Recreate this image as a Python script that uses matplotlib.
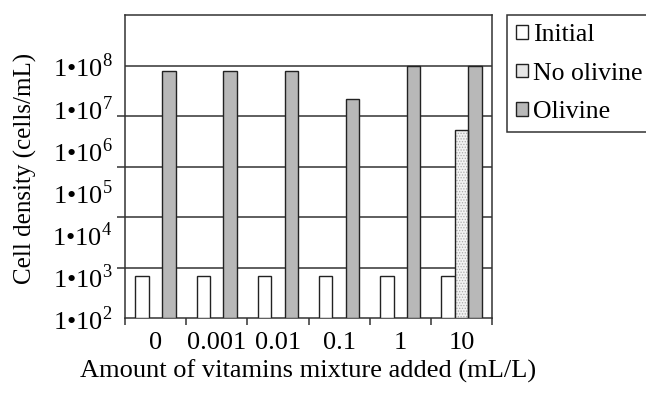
import numpy as np
import matplotlib
matplotlib.use("Agg")
from matplotlib import pyplot as plt
from matplotlib.patches import Patch
from matplotlib.ticker import FixedLocator, NullFormatter

plt.rcParams['font.family'] = ['Liberation Serif', 'DejaVu Serif']
plt.rcParams['mathtext.fontset'] = 'custom'
plt.rcParams['mathtext.rm'] = 'Liberation Serif'
plt.rcParams['hatch.linewidth'] = 0.6

# vitamin mixture added (mL/L) and cell densities (cells/mL)
amounts = ['0', '0.001', '0.01', '0.1', '1', '10']
initial = [900, 900, 900, 900, 900, 900]
no_olivine = [None, None, None, None, None, 2.9e6]
olivine = [7.5e7, 7.5e7, 7.5e7, 1.6e7, 9.5e7, 9.5e7]

decades = [2, 3, 4, 5, 6, 7, 8]
grid_exp = [2, 3.2, 4.4, 5.6, 6.8, 8.0]
top_exp = 9.2

edge = '#222222'
fs = 19

fig = plt.figure(figsize=(6.46, 3.96), dpi=100)
ax = fig.add_axes([125/646, 1 - 318.3/396, (492 - 125)/646, (318.3 - 15)/396])
ax.set_yscale('log')

x = np.arange(len(amounts)) + 0.5
w = 0.22

for i, xc in enumerate(x):
    ax.bar(xc - w, initial[i], w, bottom=1e2, color='white', edgecolor=edge, lw=1.0, zorder=3)
    if no_olivine[i] is not None:
        ax.bar(xc, no_olivine[i], w, bottom=1e2, color='#f2f2f2', edgecolor='#aaaaaa',
               hatch='......', lw=0, zorder=3)
        ax.bar(xc, no_olivine[i], w, bottom=1e2, fill=False, edgecolor=edge, lw=1.0, zorder=4)
    ax.bar(xc + w, olivine[i], w, bottom=1e2, color='#b8b8b8', edgecolor=edge, lw=1.0, zorder=3)

# gridlines sit on their own spacing, independent of the decade labels
for g in grid_exp[1:]:
    ax.axhline(10**g, color='#333333', lw=1.1, zorder=1)

ax.set_xlim(0, len(amounts))
ax.set_ylim(1e2, 10**top_exp)

ax.yaxis.set_major_locator(FixedLocator([10.0**d for d in decades]))
ax.set_yticklabels(['1\u202210$^{%d}$' % d for d in decades])
ax.yaxis.set_minor_locator(FixedLocator([10.0**g for g in grid_exp]))
ax.yaxis.set_minor_formatter(NullFormatter())
ax.tick_params(axis='y', which='major', length=0, pad=9, labelsize=fs)
ax.tick_params(axis='y', which='minor', length=6, width=1.1, direction='out', color='#333333')

ax.set_xticks(x)
ax.set_xticklabels(amounts)
ax.set_xticks(np.arange(len(amounts) + 1), minor=True)
ax.tick_params(axis='x', which='major', length=0, pad=10, labelsize=fs)
ax.tick_params(axis='x', which='minor', length=5, width=1.1, direction='out', color='#333333')

for s in ax.spines.values():
    s.set_linewidth(1.1)
    s.set_color('#333333')

ax.set_xlabel('Amount of vitamins mixture added (mL/L)', fontsize=fs, labelpad=4)
fig.text(25/646, 1 - 168/396, 'Cell density (cells/mL)', rotation=90,
         ha='center', va='center', fontsize=18)

handles = [Patch(facecolor='white', edgecolor=edge, lw=1.0),
           Patch(facecolor='#e6e6e6', edgecolor=edge, lw=1.0),
           Patch(facecolor='#b8b8b8', edgecolor=edge, lw=1.0)]
leg = fig.legend(handles, ['Initial', 'No olivine', 'Olivine'], loc='upper left',
                 bbox_to_anchor=(507/646, 1 - 15/396), borderaxespad=0, fontsize=18.5,
                 handlelength=0.45, handleheight=0.45, handletextpad=0.2,
                 labelspacing=0.65, borderpad=0.35, fancybox=False, framealpha=1)
leg.get_frame().set_edgecolor('#333333')
leg.get_frame().set_linewidth(1.1)

fig.savefig('out.png', dpi=100)
